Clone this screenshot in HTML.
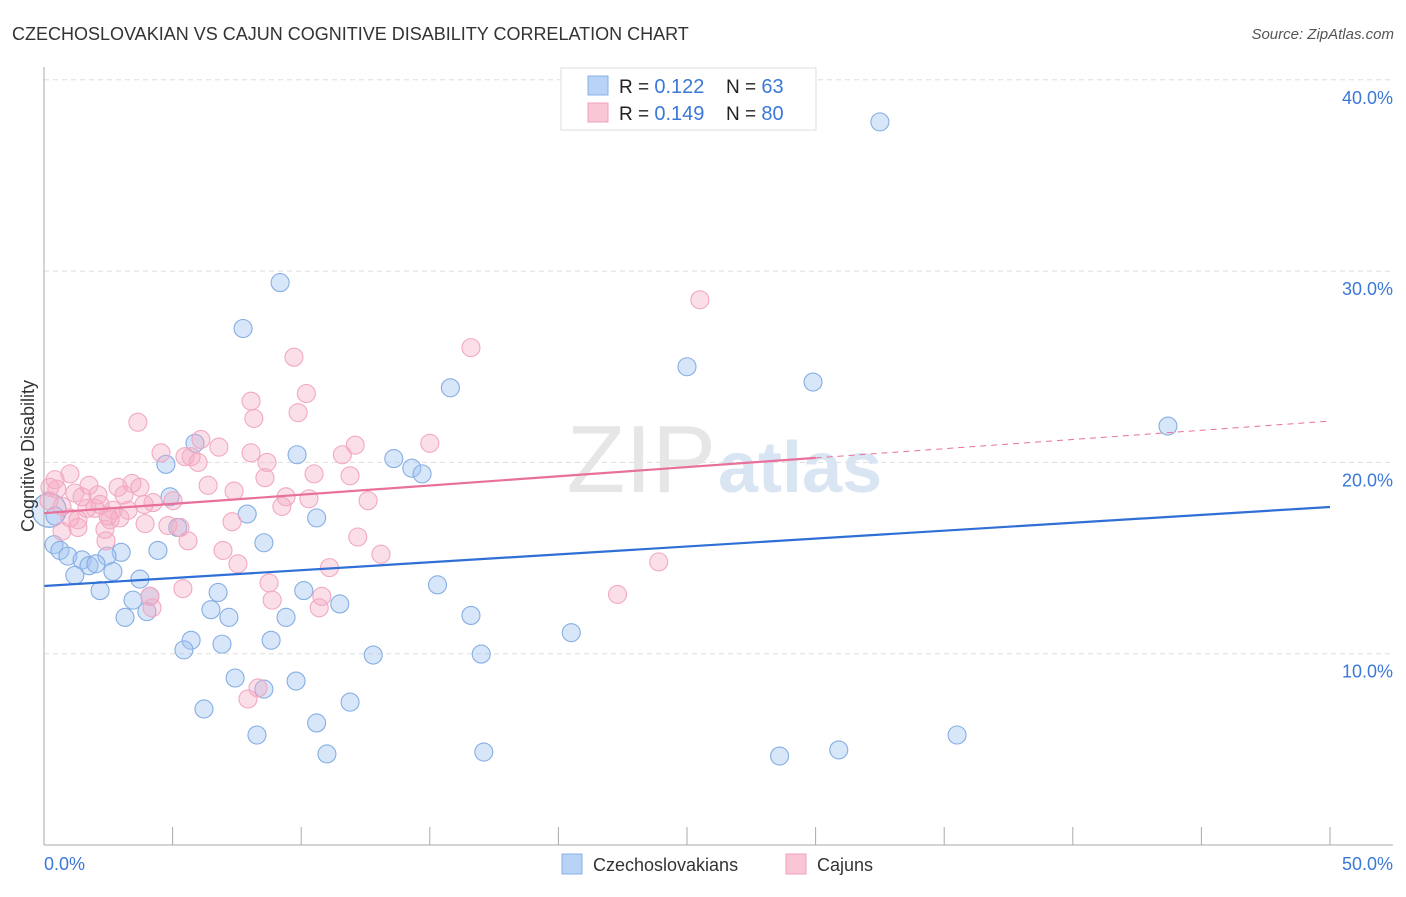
<!DOCTYPE html>
<html><head><meta charset="utf-8"><style>
body{margin:0;background:#fff;font-family:"Liberation Sans",sans-serif;}
svg text{font-family:"Liberation Sans",sans-serif;}
</style></head><body>
<svg id="chart" width="1406" height="892" viewBox="0 0 1406 892">
<text x="12" y="40" font-size="18" fill="#333">CZECHOSLOVAKIAN VS CAJUN COGNITIVE DISABILITY CORRELATION CHART</text>
<text x="1394" y="39" font-size="15" fill="#555" font-style="italic" text-anchor="end">Source: ZipAtlas.com</text>
<g id="grid"></g>
<text x="716" y="492" font-size="96" fill="#e6e6e6" text-anchor="end" font-family="Liberation Serif">ZIP</text>
<text x="718" y="492" font-size="72" fill="#d9e5f3" font-weight="bold">atlas</text>
<g id="points"></g>
<g id="lines"></g>
<line x1="44" y1="845" x2="1393" y2="845" stroke="#aaa"/>
<line x1="44" y1="67" x2="44" y2="845" stroke="#aaa"/>
<text x="44" y="870" font-size="18" fill="#3b78d8">0.0%</text>
<text x="1393" y="870" font-size="18" fill="#3b78d8" text-anchor="end">50.0%</text>
<text transform="translate(34,456) rotate(-90)" font-size="18" fill="#333" text-anchor="middle">Cognitive Disability</text>
<g>
<rect x="561" y="68" width="255" height="62" fill="#fff" stroke="#ddd"/>
<rect x="588" y="76" width="20" height="19" fill="#b8d3f5" stroke="#8ab0e8"/>
<rect x="588" y="103" width="20" height="19" fill="#f9c6d6" stroke="#f0a0bc"/>
<text x="619" y="93" font-size="19" fill="#222">R = <tspan fill="#3b78d8" font-size="20">0.122</tspan><tspan x="726">N = </tspan><tspan fill="#3b78d8" font-size="20">63</tspan></text>
<text x="619" y="120" font-size="19" fill="#222">R = <tspan fill="#3b78d8" font-size="20">0.149</tspan><tspan x="726">N = </tspan><tspan fill="#3b78d8" font-size="20">80</tspan></text>
</g>
<g>
<rect x="562" y="854" width="20" height="20" fill="#b8d3f5" stroke="#8ab0e8"/>
<text x="593" y="871" font-size="18" fill="#333">Czechoslovakians</text>
<rect x="786" y="854" width="20" height="20" fill="#f9c6d6" stroke="#f0a0bc"/>
<text x="817" y="871" font-size="18" fill="#333">Cajuns</text>
</g>
</svg>
<script>
const yTicks=[10,20,30,40];
const yTickLabels=["10.0%","20.0%","30.0%","40.0%"];
const xTicks=[0,5,10,15,20,25,30,35,40,45,50];
const blueX=[32.5,9.18,7.74,25.0,29.9,15.8,43.7,5.87,4.74,9.84,13.6,14.3,14.7,4.9,7.9,10.6,0.43,5.2,0.39,8.55,0.62,0.93,3.0,4.43,2.45,1.48,1.75,2.02,2.68,1.2,3.73,2.18,3.46,4.12,4.0,6.77,10.1,6.49,15.3,3.15,7.19,9.41,11.5,16.6,5.72,8.83,5.44,6.92,20.5,12.8,17.0,7.43,9.8,8.55,11.9,6.22,10.6,8.28,35.5,11.0,17.1,28.6,30.9];
const blueY=[37.8,29.4,27.0,25.0,24.2,23.9,21.9,21.0,19.9,20.4,20.2,19.7,19.4,18.2,17.3,17.1,17.2,16.6,15.7,15.8,15.4,15.1,15.3,15.4,15.1,14.9,14.6,14.7,14.3,14.1,13.9,13.3,12.8,13.0,12.2,13.2,13.3,12.3,13.6,11.9,11.9,11.9,12.6,12.0,10.7,10.7,10.2,10.5,11.1,9.93,9.98,8.73,8.57,8.15,7.47,7.11,6.38,5.75,5.75,4.76,4.86,4.65,4.97];
const pinkX=[25.5,16.6,9.72,10.2,8.05,3.65,8.16,9.88,15.0,12.1,6.1,4.55,6.8,8.05,11.6,5.72,5.48,5.99,8.67,1.01,10.5,11.9,8.59,0.23,0.5,1.2,1.75,1.48,2.1,2.88,3.42,3.73,3.11,5.02,4.24,6.38,7.39,9.41,12.6,0.7,1.01,1.67,1.98,2.68,3.27,3.89,9.25,1.32,2.95,2.57,3.93,4.82,5.29,2.37,0.7,2.41,7.31,12.2,6.96,5.6,7.54,13.1,11.1,23.9,8.75,5.4,8.87,10.8,10.7,22.3,4.2,4.12,8.32,7.93,2.49,0.43,1.32,2.18,10.3,0.19];
const pinkY=[28.5,26.0,25.5,23.6,23.2,22.1,22.3,22.6,21.0,20.9,21.2,20.5,20.8,20.5,20.4,20.3,20.3,20.0,20.0,19.4,19.4,19.3,19.2,18.7,18.6,18.4,18.8,18.2,18.3,18.7,18.9,18.7,18.3,18.0,17.9,18.8,18.5,18.2,18.0,17.7,17.1,17.6,17.6,17.5,17.5,17.8,17.7,17.0,17.1,17.0,16.8,16.7,16.6,16.5,16.4,15.9,16.9,16.1,15.4,15.9,14.7,15.2,14.5,14.8,13.7,13.4,12.8,13.0,12.4,13.1,12.4,13.0,8.21,7.63,17.2,19.1,16.6,17.8,18.1,18.0];
const blueTrend=[13.54,17.67];
const pinkTrend=[17.35,22.16];
const pinkSolidEnd=30;
const NS="http://www.w3.org/2000/svg";
const xs=v=>44+v*25.72, ys=v=>845-v*19.13;
function mk(tag,attrs,parent){const e=document.createElementNS(NS,tag);for(const k in attrs)e.setAttribute(k,attrs[k]);parent.appendChild(e);return e;}
const grid=document.getElementById('grid');
yTicks.forEach((t,i)=>{
 const l=mk('line',{x1:44,x2:1393,y1:ys(t),y2:ys(t),stroke:'#ddd','stroke-dasharray':'5,4'},grid);
 
 
 const tx=mk('text',{x:1393,y:ys(t)+24,'font-size':18,fill:'#3b78d8','text-anchor':'end'},grid);
 tx.textContent=yTickLabels[i];
 
 
});
xTicks.forEach(t=>{
 const l=mk('line',{x1:xs(t),x2:xs(t),y1:827,y2:845,stroke:'#aaa'},grid);
 
 
});
const pts=document.getElementById('points');
const big=mk('circle',{cx:xs(0.2),cy:ys(17.5),r:17,fill:'rgba(160,196,240,0.35)',stroke:'#7aa5e0','stroke-width':1.2},pts);


blueX.forEach((x,i)=>{
 const c=mk('circle',{cx:xs(x),cy:ys(blueY[i]),r:9,fill:'rgba(160,196,240,0.42)',stroke:'#86aee3','stroke-width':1.1},pts);
 
 
});
pinkX.forEach((x,i)=>{
 const c=mk('circle',{cx:xs(x),cy:ys(pinkY[i]),r:9,fill:'rgba(245,170,195,0.38)',stroke:'#f2a8c1','stroke-width':1.1},pts);
 
 
});
const lines=document.getElementById('lines');
const bl=mk('line',{x1:xs(0),y1:ys(blueTrend[0]),x2:xs(50),y2:ys(blueTrend[1]),stroke:'#2f6fd6','stroke-width':2.2},lines);


const py=x=>pinkTrend[0]+(pinkTrend[1]-pinkTrend[0])*x/50;
const pl=mk('line',{x1:xs(0),y1:ys(py(0)),x2:xs(pinkSolidEnd),y2:ys(py(pinkSolidEnd)),stroke:'#e8709a','stroke-width':2.2},lines);


const pd=mk('line',{x1:xs(pinkSolidEnd),y1:ys(py(pinkSolidEnd)),x2:xs(50),y2:ys(py(50)),stroke:'#e8709a','stroke-width':1,'stroke-dasharray':'6,5'},lines);


</script>
</body></html>
